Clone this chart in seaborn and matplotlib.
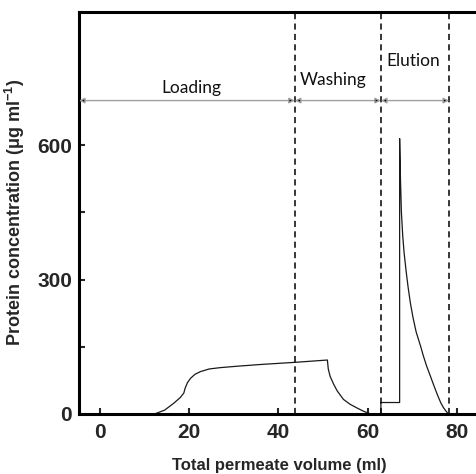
import matplotlib
matplotlib.use("Agg")
from matplotlib import pyplot as plt
from matplotlib.ticker import FixedLocator
import seaborn as sns
import pandas as pd

# permeate volume (ml) and protein concentration (ug/ml)
volume = [0, 12.4, 14.5, 16.5, 18.0, 18.8, 19.1, 19.6, 20.3, 21.3, 22.5, 24.5,
          27.0, 30.6, 36.0, 44.0, 51.0,
          51.2, 51.6, 52.4, 53.2, 54.6, 56.1, 57.6, 59.0, 60.0, 60.5,
          63.0, 63.0, 67.2, 67.2, 67.4, 67.6, 67.9, 68.2, 68.7, 69.1, 69.6,
          70.2, 70.9, 71.9, 72.5, 73.2, 74.1, 74.8, 75.6, 76.4, 77.0, 77.5,
          78.1]
conc = [0, 0, 8, 23, 36, 46, 57, 69, 79, 88, 94, 100,
        103, 106, 110, 115, 120,
        100, 84, 66, 51, 32, 21, 13, 6, 2, 0,
        0, 25, 25, 615, 520, 450, 397, 360, 315, 283, 248,
        215, 183, 151, 130, 108, 84, 65, 44, 25, 14, 7,
        0]

# step boundaries (ml) and their names
bounds = [-4.7, 43.7, 63.0, 78.3]
steps = ["Loading", "Washing", "Elution"]
step_text_x = [20.4, 52.3, 70.2]
step_text_y = [710, 727, 770]

df = pd.DataFrame({"volume": volume, "conc": conc})

sns.set_style("ticks")
plt.rcParams['font.family'] = ['Liberation Sans', 'DejaVu Sans']

fig = plt.figure(figsize=(4.76, 4.74), dpi=100)
ax = fig.add_axes([79 / 476, 60.3 / 474, 400 / 476, 401.7 / 474])

sns.lineplot(data=df, x="volume", y="conc", sort=False, estimator=None,
             color="#1a1a1a", linewidth=0.9, ax=ax)

for b in bounds[1:]:
    ax.axvline(b, color="black", linewidth=1.1, linestyle=(0, (4, 2.8)))

# arrows spanning each step
for i, name in enumerate(steps):
    ax.annotate("", xy=(bounds[i + 1], 700), xytext=(bounds[i], 700),
                arrowprops=dict(arrowstyle="<|-|>", facecolor="black",
                                edgecolor="#a0a0a0", lw=1.0,
                                mutation_scale=8, shrinkA=0, shrinkB=0))
    ax.text(step_text_x[i], step_text_y[i], name, ha="center", va="bottom",
            fontsize=12.5, family=["Lato", "DejaVu Sans"], color="#111111")

ax.set_xlim(-4.7, 85)
ax.set_ylim(0, 898)
ax.set_xticks([0, 20, 40, 60, 80])
ax.set_yticks([0, 300, 600])
ax.yaxis.set_minor_locator(FixedLocator([150, 450]))

ax.tick_params(which="both", direction="in", width=1.5, labelsize=15,
               length=4)
ax.tick_params(axis="x", pad=7)
ax.tick_params(axis="y", pad=5)
for lab in ax.get_xticklabels() + ax.get_yticklabels():
    lab.set_fontweight("bold")

for s in ax.spines.values():
    s.set_linewidth(2.2)
    s.set_color("black")

ax.set_xlabel("Total permeate volume (ml)", fontsize=12, fontweight="bold",
              labelpad=11)
ax.set_ylabel("Protein concentration (μg ml$^{\\mathregular{-1}}$)",
              fontsize=13, fontweight="bold", labelpad=7)

fig.savefig("out.png", dpi=100)
